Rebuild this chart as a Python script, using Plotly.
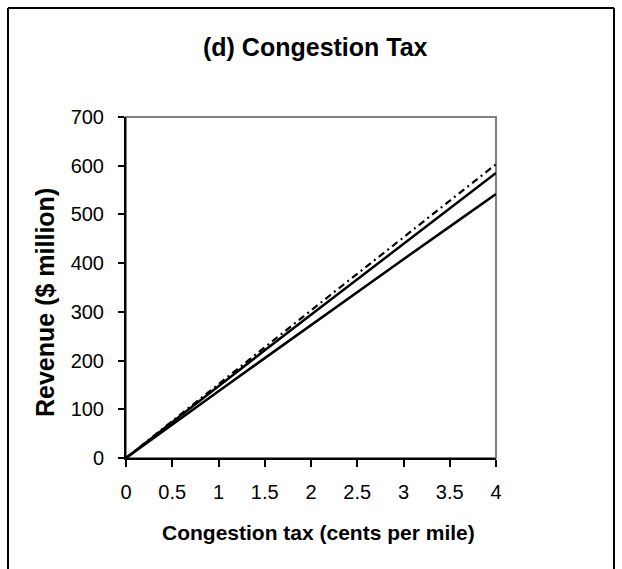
import plotly.graph_objects as go

tax = [0, 0.5, 1, 1.5, 2, 2.5, 3, 3.5, 4]
rev_low = [0, 69, 137, 205, 273, 340, 408, 475, 542]
rev_mid = [0, 74, 148, 221, 294, 367, 440, 513, 585]
rev_high = [0, 76, 152, 228, 303, 378, 453, 528, 603]

x_ticks = [0, 0.5, 1, 1.5, 2, 2.5, 3, 3.5, 4]
x_labels = ["0", "0.5", "1", "1.5", "2", "2.5", "3", "3.5", "4"]
y_ticks = [0, 100, 200, 300, 400, 500, 600, 700]

FONT = "Liberation Sans, Arial, sans-serif"

fig = go.Figure()
fig.add_trace(go.Scatter(x=tax, y=rev_high, mode="lines",
                         line=dict(color="black", width=2.2, dash="7px,4px,2px,4px"),
                         showlegend=False))
fig.add_trace(go.Scatter(x=tax, y=rev_mid, mode="lines",
                         line=dict(color="black", width=2.5), showlegend=False))
fig.add_trace(go.Scatter(x=tax, y=rev_low, mode="lines",
                         line=dict(color="black", width=2.5), showlegend=False))

W, H = 622, 569
L, R, T, B = 126, 126, 117, 111
pw, ph = W - L - R, H - T - B

def px(xp):
    return (xp - L) / pw

def py(yp):
    return (H - B - yp) / ph

fig.update_layout(
    width=W, height=H,
    margin=dict(l=L, r=R, t=T, b=B),
    paper_bgcolor="white", plot_bgcolor="white",
    font=dict(family=FONT, color="black"),
    xaxis=dict(range=[0, 4], tickvals=x_ticks, ticktext=x_labels,
               showgrid=False, zeroline=False, showline=True,
               linecolor="black", linewidth=2, ticks="outside",
               ticklen=7, tickwidth=1.5, tickcolor="black",
               ticklabelstandoff=8,
               tickfont=dict(size=20, family=FONT), fixedrange=True),
    yaxis=dict(range=[0, 700], tickvals=y_ticks,
               showgrid=False, zeroline=False, showline=True,
               linecolor="black", linewidth=2, ticks="outside",
               ticklen=6, tickwidth=1.5, tickcolor="black",
               ticklabelstandoff=10,
               tickfont=dict(size=20, family=FONT), fixedrange=True),
    shapes=[
        dict(type="rect", xref="paper", yref="paper", x0=0, y0=0, x1=1, y1=1,
             line=dict(color="#808080", width=2), layer="below"),
        dict(type="line", xref="paper", yref="paper",
             x0=px(8), y0=py(8), x1=px(614), y1=py(8),
             line=dict(color="black", width=2)),
        dict(type="line", xref="paper", yref="paper",
             x0=px(8), y0=py(8), x1=px(8), y1=py(600),
             line=dict(color="black", width=2)),
        dict(type="line", xref="paper", yref="paper",
             x0=px(614), y0=py(8), x1=px(614), y1=py(600),
             line=dict(color="black", width=2)),
    ],
    annotations=[
        dict(text="<b>(d) Congestion Tax</b>", xref="paper", yref="paper",
             x=px(315), y=py(47), showarrow=False, xanchor="center", yanchor="middle",
             font=dict(size=25, family=FONT)),
        dict(text="<b>Congestion tax (cents per mile)</b>", xref="paper", yref="paper",
             x=px(318), y=py(532), showarrow=False, xanchor="center", yanchor="middle",
             font=dict(size=21, family=FONT)),
        dict(text="<b>Revenue ($ million)</b>", xref="paper", yref="paper",
             x=px(45), y=py(303), showarrow=False, xanchor="center", yanchor="middle",
             textangle=-90, font=dict(size=25, family=FONT)),
    ],
)

fig.write_html("out.html")
